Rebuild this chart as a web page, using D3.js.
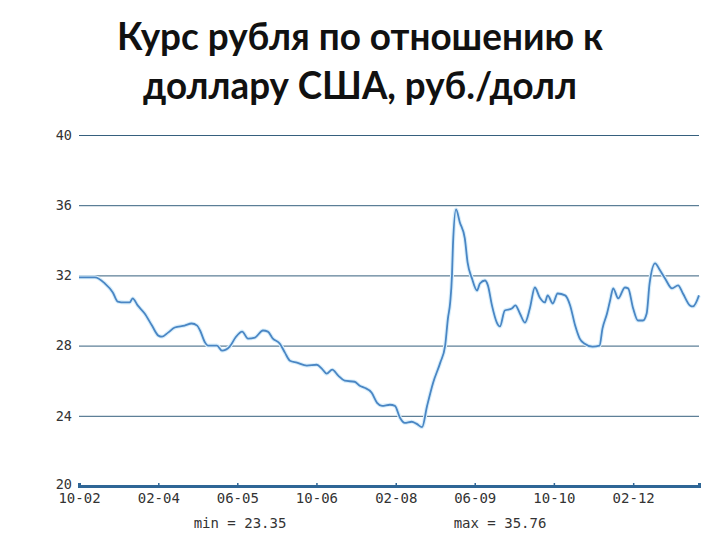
<!DOCTYPE html>
<html>
<head>
<meta charset="utf-8">
<script src="https://cdn.jsdelivr.net/npm/d3@7"></script>
<style>
  html, body { margin: 0; padding: 0; background: #fff; }
  svg { display: block; }
</style>
</head>
<body>
<div id="chart"></div>
<script>
// ---- Data ----
const titleLines = ["Курс рубля по отношению к", "доллару США, руб./долл"];
const dates = [
  "2002-10-01","2003-01-07","2003-03-09","2003-04-27","2003-05-27","2003-07-09","2003-08-09","2003-08-27",
  "2003-09-27","2003-11-09","2003-12-24","2004-02-01","2004-02-24","2004-04-01","2004-05-12","2004-07-12",
  "2004-08-24","2004-09-27","2004-10-15","2004-11-15","2004-12-03","2005-01-27","2005-02-27","2005-04-15",
  "2005-05-21","2005-07-01","2005-08-06","2005-09-18","2005-11-06","2005-12-06","2006-01-06","2006-02-18",
  "2006-03-21","2006-04-21","2006-06-03","2006-08-03","2006-10-03","2006-11-03","2006-12-03","2007-01-06",
  "2007-02-12","2007-03-24","2007-05-24","2007-06-24","2007-07-24","2007-09-06","2007-10-09","2007-11-09",
  "2007-12-27","2008-01-27","2008-02-27","2008-03-27","2008-05-09","2008-06-09","2008-07-12","2008-08-12",
  "2008-09-18","2008-11-01","2008-12-01","2008-12-18","2009-01-01","2009-01-12","2009-01-18","2009-02-06",
  "2009-03-01","2009-04-01","2009-04-18","2009-05-15","2009-06-15","2009-07-03","2009-08-03","2009-08-21",
  "2009-09-15","2009-10-15","2009-11-03","2009-12-03","2010-01-15","2010-02-06","2010-03-06","2010-04-06",
  "2010-05-06","2010-06-06","2010-07-06","2010-08-06","2010-08-24","2010-09-24","2010-10-24","2010-12-09",
  "2011-01-09","2011-02-09","2011-03-09","2011-04-09","2011-05-27","2011-07-09","2011-07-27","2011-08-24",
  "2011-09-12","2011-10-01","2011-11-01","2011-12-12","2012-01-01","2012-02-01","2012-03-01","2012-04-01",
  "2012-04-24","2012-05-12","2012-06-15","2012-07-15","2012-08-15","2012-09-27","2012-11-03","2012-12-03",
  "2013-01-15","2013-02-03","2013-03-12"
];
const rates = [
  31.89,31.89,31.54,31.03,30.51,30.46,30.46,30.69,
  30.29,29.83,29.14,28.57,28.51,28.74,29.03,29.14,
  29.26,29.14,28.86,28.17,28.00,28.00,27.71,27.94,
  28.46,28.80,28.40,28.46,28.86,28.80,28.40,28.11,
  27.60,27.14,27.03,26.86,26.91,26.69,26.40,26.63,
  26.29,26.00,25.94,25.71,25.60,25.31,24.74,24.57,
  24.63,24.57,23.89,23.60,23.66,23.54,23.35,24.57,
  25.89,27.03,28.00,29.54,30.46,32.00,33.71,35.76,
  35.03,34.11,32.74,31.83,31.14,31.54,31.71,31.43,
  30.29,29.31,29.09,30.00,30.11,30.29,29.83,29.31,
  30.11,31.31,30.74,30.46,30.86,30.40,30.97,30.86,
  30.29,29.14,28.40,28.11,27.94,28.00,28.97,29.83,
  30.57,31.26,30.69,31.31,31.26,30.11,29.43,29.43,
  29.83,31.54,32.69,32.29,31.83,31.26,31.43,30.97,
  30.29,30.23,30.86
];
const yTicks = [20, 24, 28, 32, 36, 40];
const xTickLabels = ["10-02","02-04","06-05","10-06","02-08","06-09","10-10","02-12"];
const xDomain = ["2002-10-01", "2013-03-12"];
const minLabel = "min = 23.35";
const maxLabel = "max = 35.76";

// ---- Drawing ----
const W = 720, H = 540;
const parse = d3.timeParse("%Y-%m-%d");
const fmtTick = d3.timeFormat("%m-%y");
const parseTick = d3.timeParse("%m-%y");
const data = dates.map((d, i) => ({ date: parse(d), value: rates[i] }));

const svg = d3.select("#chart").append("svg")
  .attr("width", W).attr("height", H)
  .attr("viewBox", `0 0 ${W} ${H}`);

svg.append("rect").attr("width", W).attr("height", H).attr("fill", "#fff");

// Title
const title = svg.append("g");
const titleY = [50, 99];
const titleLen = [486, 434];
titleLines.forEach((t, i) => {
  title.append("text")
    .attr("x", W / 2).attr("y", titleY[i])
    .attr("text-anchor", "middle")
    .attr("font-family", "Lato, 'Noto Sans', sans-serif")
    .attr("font-weight", "bold")
    .attr("font-size", 38)
    .attr("fill", "#111")
    .attr("textLength", titleLen[i])
    .attr("lengthAdjust", "spacingAndGlyphs")
    .text(t);
});

const x = d3.scaleTime().domain(xDomain.map(parse)).range([79, 699]);
const y = d3.scaleLinear().domain([20, 40]).range([486, 135]);

const mono = "'DejaVu Sans Mono', 'Liberation Mono', monospace";

// Grid lines
const grid = svg.append("g")
  .attr("transform", `translate(79,0)`)
  .call(d3.axisLeft(y).tickValues(yTicks.filter(v => v > 20)).tickSize(-(699 - 79)).tickFormat(""));
grid.select(".domain").remove();
grid.selectAll(".tick line").attr("stroke", "#36607e").attr("stroke-width", 1);

// Y labels
const yLab = svg.append("g");
yTicks.forEach(v => {
  yLab.append("text")
    .attr("x", 72).attr("y", y(v) + (v === 20 ? -2 : 0))
    .attr("dy", "0.35em")
    .attr("text-anchor", "end")
    .attr("font-family", mono)
    .attr("font-size", 13.5)
    .attr("fill", "#333")
    .text(v);
});

// X axis
const xAxis = svg.append("g")
  .attr("transform", `translate(0,${y(20)})`)
  .call(d3.axisBottom(x)
    .tickValues(xTickLabels.map(parseTick))
    .tickSize(-3)
    .tickPadding(7)
    .tickFormat(fmtTick));
xAxis.select(".domain").attr("stroke", "#2f6696").attr("stroke-width", 3);
xAxis.selectAll(".tick line").attr("stroke", "#2f6696").attr("stroke-width", 1.5);
xAxis.selectAll(".tick text")
  .attr("font-family", mono)
  .attr("font-size", 14)
  .attr("fill", "#333");

// Line
const line = d3.line()
  .x(d => x(d.date))
  .y(d => y(d.value))
  .curve(d3.curveMonotoneX);

svg.append("path")
  .datum(data)
  .attr("fill", "none")
  .attr("stroke", "#d8eefb")
  .attr("stroke-width", 4)
  .attr("d", line);
svg.append("path")
  .datum(data)
  .attr("fill", "none")
  .attr("stroke", "#4a86c4")
  .attr("stroke-width", 1.8)
  .attr("d", line);

// min / max labels
svg.append("text")
  .attr("x", 240).attr("y", 528)
  .attr("text-anchor", "middle")
  .attr("font-family", mono).attr("font-size", 14).attr("fill", "#333")
  .text(minLabel);
svg.append("text")
  .attr("x", 500).attr("y", 528)
  .attr("text-anchor", "middle")
  .attr("font-family", mono).attr("font-size", 14).attr("fill", "#333")
  .text(maxLabel);
</script>
</body>
</html>
